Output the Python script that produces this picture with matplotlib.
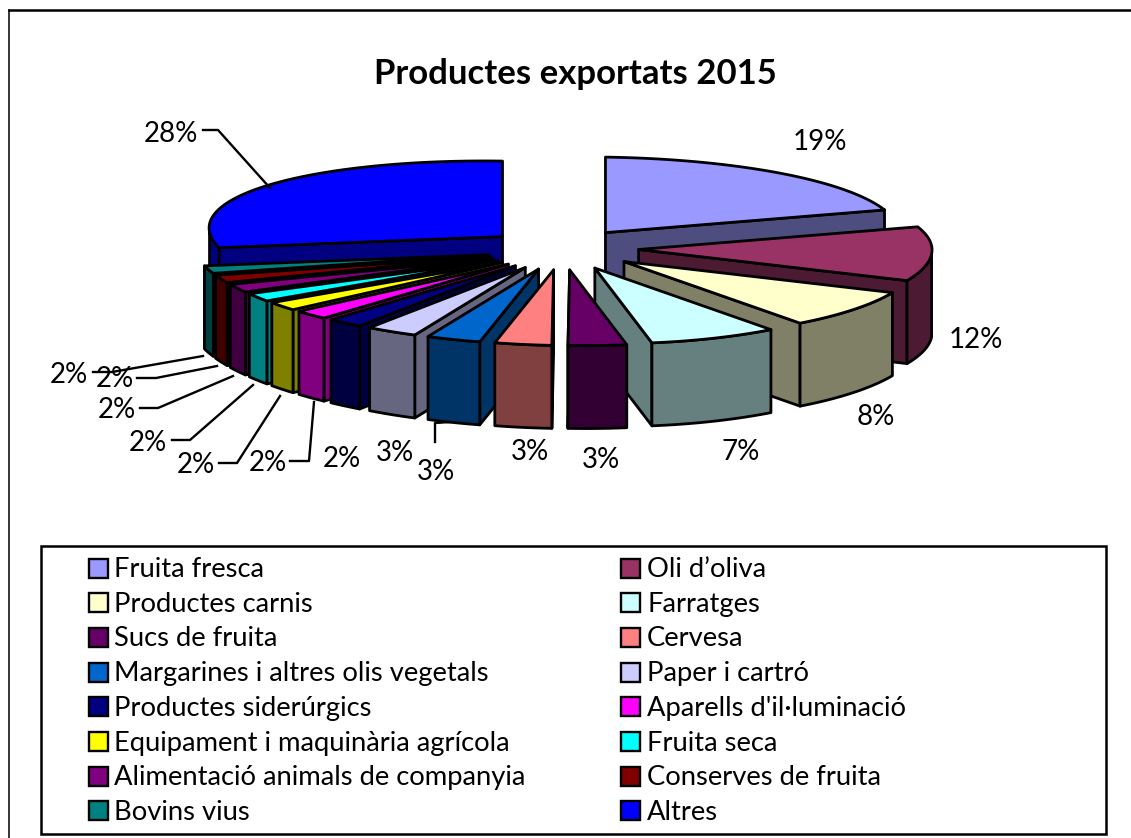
import numpy as np
import matplotlib
matplotlib.use("Agg")
import matplotlib.pyplot as plt
from matplotlib.colors import to_rgb
from matplotlib.patches import Polygon, Rectangle

plt.rcParams['font.family'] = ['Lato', 'DejaVu Sans']

# -------------------------
# DATA
# -------------------------
title = "Productes exportats 2015"
categories = [
    "Fruita fresca", "Oli d’oliva", "Productes carnis", "Farratges",
    "Sucs de fruita", "Cervesa", "Margarines i altres olis vegetals", "Paper i cartró",
    "Productes siderúrgics", "Aparells d'il·luminació", "Equipament i maquinària agrícola", "Fruita seca",
    "Alimentació animals de companyia", "Conserves de fruita", "Bovins vius", "Altres",
]
# values, the labels are what the chart prints
values = [19.2, 11.6, 8.4, 7.5, 3.4, 3.3, 3.1, 2.9, 2.0, 1.9, 1.8, 1.7, 1.7, 1.6, 1.6, 28.3]
pct_labels = [19, 12, 8, 7, 3, 3, 3, 3, 2, 2, 2, 2, 2, 2, 2, 28]
colors = ["#9999FF", "#993366", "#FFFFCC", "#CCFFFF", "#660066", "#FF8080", "#0066CC", "#CCCCFF",
          "#000080", "#FF00FF", "#FFFF00", "#00FFFF", "#800080", "#800000", "#008080", "#0000FF"]

# label centres, same order as categories
label_x = [820, 976, 876, 741, 601, 530, 436, 395, 342, 268, 196, 148, 117, 115, 69, 171]
label_y = [140, 338, 415, 450, 458, 450, 470, 451, 457, 461, 463, 441, 408, 377, 373, 132]

# leader lines
leaders = [
    [(450, 422), (435, 423), (435, 442)],
    [(314, 402), (309, 461), (290, 461)],
    [(280, 396), (237, 463), (219, 463)],
    [(253, 385), (190, 440), (172, 440)],
    [(233, 376), (158, 408), (140, 408)],
    [(217, 366), (156, 378), (137, 378)],
    [(203, 356), (112, 372), (93, 372)],
    [(270, 188), (218, 130), (203, 130)],
]

# -------------------------
# PIE GEOMETRY (pixels of the picture)
# -------------------------
cx, cy = 562, 249.5
explode_x, explode_y = 76.6, 20.5
ry = 75.5
tilt = 4.5
depth = 83
lw = 2.0


def rim(apex, theta):
    rx = 293 + 16 * np.cos(theta)
    return apex[0] + rx * np.sin(theta), apex[1] - ry * np.cos(theta) + tilt * np.sin(theta)


def shade(c):
    return tuple(v * 0.5 for v in to_rgb(c))


fig = plt.figure(figsize=(11.31, 8.38), dpi=100)
ax = fig.add_axes([0, 0, 1, 1])
ax.set_xlim(0, 1131)
ax.set_ylim(838, 0)
ax.axis("off")

# chart frame
ax.plot([8.5, 1131], [10, 10], color="black", lw=1.8)
ax.plot([8.5, 8.5], [838, 10], color="black", lw=1.1)

edges = np.radians(np.cumsum([0] + values) / sum(values) * 360)
mids = (edges[:-1] + edges[1:]) / 2

# back slices first
for i in np.argsort(-np.cos(mids)):
    a0, a1, mid = edges[i], edges[i + 1], mids[i]
    apex = (cx + explode_x * np.sin(mid), cy - explode_y * np.cos(mid))
    thetas = np.linspace(a0, a1, 60)
    top = [apex] + [rim(apex, t) for t in thetas]

    # radial wall
    edge = a1 if mid < np.pi else a0
    p = rim(apex, edge)
    ax.add_patch(Polygon([apex, p, (p[0], p[1] + depth), (apex[0], apex[1] + depth)],
                         fc=shade(colors[i]), ec="black", lw=lw, joinstyle="round"))

    # outer wall, only the part turned to the viewer
    lo, hi = max(a0, np.pi / 2), min(a1, 3 * np.pi / 2)
    if lo < hi:
        arc = [rim(apex, t) for t in np.linspace(lo, hi, 40)]
        low = [(x, y + depth) for x, y in reversed(arc)]
        ax.add_patch(Polygon(arc + low, fc=shade(colors[i]), ec="black", lw=lw, joinstyle="round"))

    ax.add_patch(Polygon(top, fc=colors[i], ec="black", lw=lw, joinstyle="round"))

for line in leaders:
    ax.plot([q[0] for q in line], [q[1] for q in line], color="black", lw=1.7)

for lx, ly, pct in zip(label_x, label_y, pct_labels):
    ax.text(lx, ly + 1.5, f"{pct}%", fontsize=20, ha="center", va="center")

ax.text(575, 73.5, title, fontsize=25, fontweight="bold", ha="center", va="center")

# -------------------------
# LEGEND
# -------------------------
ax.add_patch(Rectangle((41, 546), 1065, 288, fc="white", ec="black", lw=1.8))
for i, name in enumerate(categories):
    row, col = i // 2, i % 2
    y = 568 + row * 34.7
    sq_x = 88.5 if col == 0 else 621
    ax.add_patch(Rectangle((sq_x, y - 9.5), 19, 19, fc=colors[i], ec="black", lw=1.7))
    ax.text(sq_x + 26, y + 1.5, name, fontsize=19.7, ha="left", va="center")

fig.savefig("out.png", dpi=100)
